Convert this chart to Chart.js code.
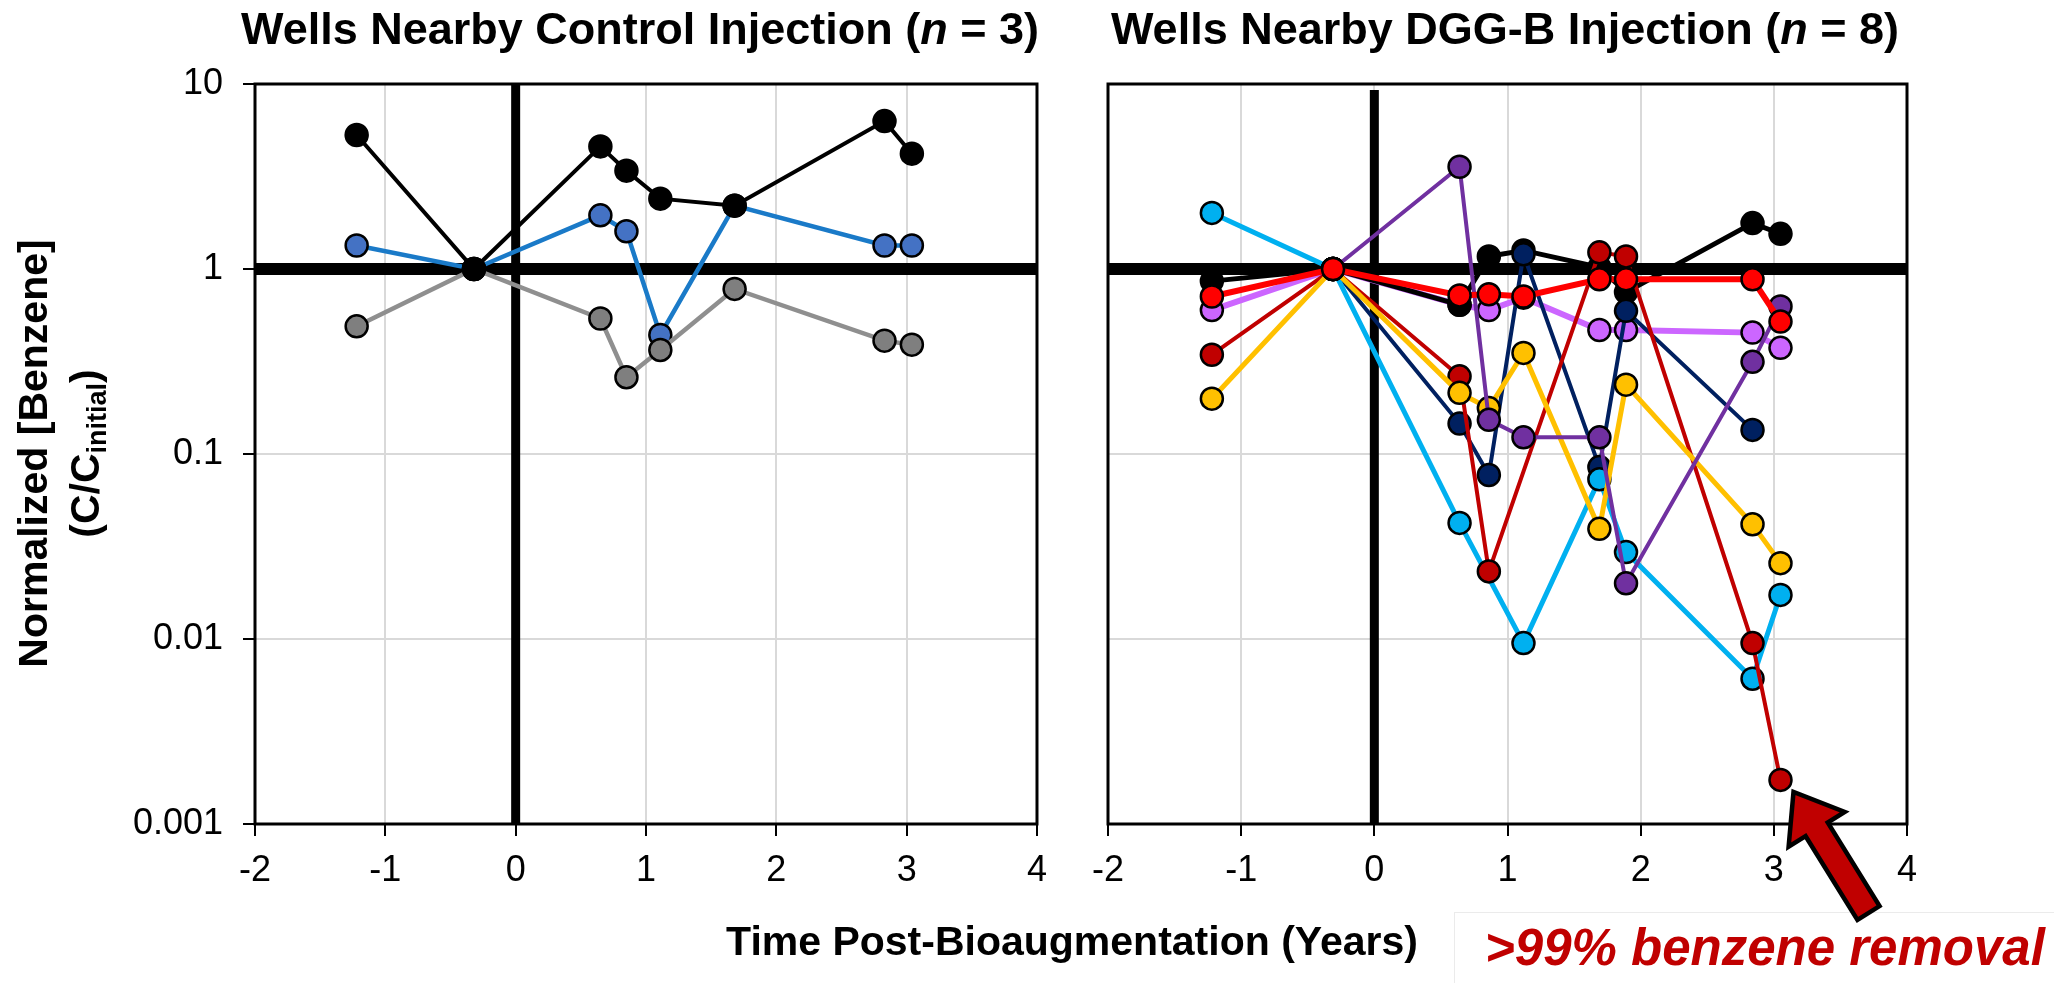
<!DOCTYPE html>
<html>
<head>
<meta charset="utf-8">
<script src="https://cdn.jsdelivr.net/npm/chart.js@4.4.1/dist/chart.umd.min.js"></script>
<style>
  html, body { margin: 0; padding: 0; background: #fff; }
  body { width: 2054px; height: 983px; position: relative; overflow: hidden;
         font-family: "Liberation Sans", Arial, sans-serif; color: #000; }
  canvas { position: absolute; top: 0; z-index: 1; }
  #leftChart { left: 0; }
  #rightChart { left: 1060px; }
  .txt { position: absolute; white-space: nowrap; z-index: 2; }
  .title { font-weight: bold; font-size: 45px; line-height: 45px; top: 6px; transform: translateX(-50%); }
  .ytitle { font-weight: bold; font-size: 41px; line-height: 41px; width: 700px; text-align: center;
            top: 433px; transform: rotate(-90deg); }
  .ytitle sub { font-size: 27px; line-height: 0; vertical-align: -7px; }
  #xtitle { font-weight: bold; font-size: 41px; line-height: 41px; top: 921px; left: 1072px; transform: translateX(-50%); }
  #note { font-weight: bold; font-style: italic; font-size: 51px; line-height: 51px; color: #C00000; left: 1485px; top: 922px; }
  #noteBox { position: absolute; left: 1454px; top: 912px; width: 620px; height: 80px; background: #fff;
             border-left: 1px solid #ebebeb; border-top: 1px solid #ebebeb; z-index: 0; }
</style>
</head>
<body>
<canvas id="leftChart" width="1060" height="983"></canvas>
<canvas id="rightChart" width="994" height="983"></canvas>

<div class="txt title" style="left:640px">Wells Nearby Control Injection (<i>n</i> = 3)</div>
<div class="txt title" style="left:1505px">Wells Nearby DGG-B Injection (<i>n</i> = 8)</div>
<div class="txt ytitle" style="left:-317px">Normalized [Benzene]</div>
<div class="txt ytitle" style="left:-265px">(C/C<sub>initial</sub>)</div>
<div class="txt" id="xtitle">Time Post-Bioaugmentation (Years)</div>
<div id="noteBox"></div>
<div class="txt" id="note">&gt;99% benzene removal</div>

<script>
// ---------------- data ----------------
const xTickValues = [-2, -1, 0, 1, 2, 3, 4];
const xTickLabels = ['-2', '-1', '0', '1', '2', '3', '4'];
const yTickValues = [0.001, 0.01, 0.1, 1, 10];
const yTickLabels = ['0.001', '0.01', '0.1', '1', '10'];

// control wells (left panel)
const controlTimes = [-1.22, -0.32, 0.65, 0.85, 1.11, 1.68, 2.83, 3.04];
const controlBlack = [5.3, 1.0, 4.6, 3.4, 2.4, 2.2, 6.3, 4.2];
const controlBlue  = [1.34, 1.0, 1.95, 1.6, 0.44, 2.2, 1.34, 1.34];
const controlGray  = [0.49, 1.0, 0.54, 0.26, 0.365, 0.78, 0.41, 0.39];

// DGG-B wells (right panel)
const dggTimes   = [-1.22, -0.31, 0.64, 0.86, 1.12, 1.69, 1.89, 2.84, 3.05];
const dggBlack   = [0.86, 1.0, 0.64, 1.17, 1.26, 1.02, 0.75, 1.77, 1.55];
const dggRed     = [0.71, 1.0, 0.72, 0.73, 0.71, 0.88, 0.88, 0.88, 0.52];
const dggDarkRed = [0.344, 1.0, 0.263, 0.0232, null, 1.23, 1.17, 0.0095, 0.00173];
const dggLilac   = [0.60, 1.0, 0.64, 0.60, 0.70, 0.468, 0.468, 0.453, 0.375];
const dggPurple  = [null, 1.0, 3.57, 0.153, 0.123, 0.123, 0.020, 0.315, 0.627];
const dggNavy    = [null, 1.0, 0.146, 0.077, 1.2, 0.085, 0.594, 0.135, null];
const dggYellow  = [0.199, 1.0, 0.214, 0.177, 0.352, 0.0394, 0.237, 0.0417, 0.0257];
const dggCyan    = [2.01, 1.0, 0.0424, null, 0.0095, 0.073, 0.0295, 0.0061, 0.0173];

// ---------------- styles ----------------
Chart.defaults.font.family = '"Liberation Sans", Arial, sans-serif';
Chart.defaults.color = '#000';

// first entry is drawn on top
const controlSeries = [
  { values: controlBlack, line: '#000000', fill: '#000000', width: 4 },
  { values: controlGray,  line: '#8f8f8f', fill: '#7f7f7f', width: 4.5 },
  { values: controlBlue,  line: '#1a7ac8', fill: '#4472c4', width: 4.5 },
];
const dggSeries = [
  { values: dggRed,     line: '#ff0000', fill: '#ff0000', width: 6 },
  { values: dggPurple,  line: '#7030a0', fill: '#7030a0', width: 4 },
  { values: dggYellow,  line: '#ffc000', fill: '#ffc000', width: 5 },
  { values: dggDarkRed, line: '#c00000', fill: '#c00000', width: 4 },
  { values: dggCyan,    line: '#00b0f0', fill: '#00b0f0', width: 5 },
  { values: dggNavy,    line: '#002060', fill: '#002060', width: 4 },
  { values: dggBlack,   line: '#000000', fill: '#000000', width: 5 },
  { values: dggLilac,   line: '#cc66ff', fill: '#cc66ff', width: 6 },
];

function toDatasets(times, series) {
  return series.map(s => ({
    data: times.map((t, i) => ({ x: t, y: s.values[i] })).filter(p => p.y !== null),
    borderColor: s.line,
    borderWidth: s.width,
    backgroundColor: s.fill,
    pointBackgroundColor: s.fill,
    pointBorderColor: '#000',
    pointBorderWidth: 2.5,
    pointRadius: 11,
    tension: 0,
  }));
}

// heavy lines at t = 0 and C/C0 = 1, plus the box
const framePlugin = {
  id: 'frame',
  beforeDatasetsDraw(chart, args, opts) {
    const { ctx, chartArea: a, scales: { x, y } } = chart;
    ctx.save();
    ctx.fillStyle = '#000';
    const y1 = y.getPixelForValue(1);
    ctx.fillRect(a.left, y1 - 6, a.width, 12);
    const x0 = x.getPixelForValue(0);
    const gap = opts.vGap || 0;
    ctx.fillRect(x0 - 4.5, a.top + gap, 9, a.height - gap);
    ctx.lineWidth = 3;
    ctx.strokeStyle = '#000';
    ctx.strokeRect(a.left, a.top, a.width, a.height);
    ctx.restore();
  }
};

// block arrow pointing at the last dark red point
const arrowPlugin = {
  id: 'arrow',
  afterDraw(chart) {
    const { ctx, scales: { x, y } } = chart;
    const px = x.getPixelForValue(dggTimes[8]);
    const py = y.getPixelForValue(dggDarkRed[8]);
    const tip = [px + 13, py + 12], tail = [px + 88, py + 133];
    const dx = tail[0] - tip[0], dy = tail[1] - tip[1], len = Math.hypot(dx, dy);
    const ux = dx / len, uy = dy / len, nx = -uy, ny = ux;
    const headLen = 44, headHalf = 33, shaftHalf = 13;
    const pts = [[0, 0], [headLen, headHalf], [headLen, shaftHalf], [len, shaftHalf],
                 [len, -shaftHalf], [headLen, -shaftHalf], [headLen, -headHalf]];
    ctx.save();
    ctx.beginPath();
    pts.forEach(([a, b], i) => {
      const X = tip[0] + ux * a + nx * b, Y = tip[1] + uy * a + ny * b;
      i ? ctx.lineTo(X, Y) : ctx.moveTo(X, Y);
    });
    ctx.closePath();
    ctx.fillStyle = '#c00000';
    ctx.fill();
    ctx.lineWidth = 4.5;
    ctx.lineJoin = 'miter';
    ctx.strokeStyle = '#000';
    ctx.stroke();
    ctx.restore();
  }
};

function makeChart(id, times, series, side) {
  const isLeft = side === 'left';
  const plugins = [framePlugin];
  if (!isLeft) plugins.push(arrowPlugin);
  return new Chart(document.getElementById(id), {
    type: 'line',
    data: { datasets: toDatasets(times, series) },
    options: {
      responsive: false,
      animation: false,
      devicePixelRatio: 1,
      events: [],
      layout: { padding: { top: 84, bottom: 0, left: 0, right: isLeft ? 21 : 147 } },
      plugins: {
        legend: { display: false },
        tooltip: { enabled: false },
        frame: { vGap: isLeft ? 0 : 6 }
      },
      scales: {
        x: {
          type: 'linear', min: -2, max: 4,
          afterBuildTicks: s => { s.ticks = xTickValues.map(v => ({ value: v })); },
          afterFit: s => { s.height = 159; },
          grid: { color: '#d9d9d9', lineWidth: 2, tickColor: '#000', tickWidth: 2, tickLength: 12 },
          border: { display: false },
          ticks: {
            font: { size: 36 }, color: '#000', padding: 13, maxRotation: 0, autoSkip: false,
            callback: v => xTickLabels[xTickValues.indexOf(v)]
          }
        },
        y: {
          type: 'logarithmic', min: 0.001, max: 10,
          afterBuildTicks: s => { s.ticks = yTickValues.map(v => ({ value: v })); },
          afterFit: s => { s.width = isLeft ? 255 : 48; },
          grid: { color: '#d9d9d9', lineWidth: 2, tickColor: '#000', tickWidth: 2, tickLength: 12, drawTicks: isLeft },
          border: { display: false },
          ticks: {
            display: isLeft, font: { size: 36 }, color: '#000', padding: 20, autoSkip: false,
            callback: v => yTickLabels[yTickValues.indexOf(v)]
          }
        }
      }
    },
    plugins
  });
}

makeChart('leftChart', controlTimes, controlSeries, 'left');
makeChart('rightChart', dggTimes, dggSeries, 'right');
</script>
</body>
</html>
